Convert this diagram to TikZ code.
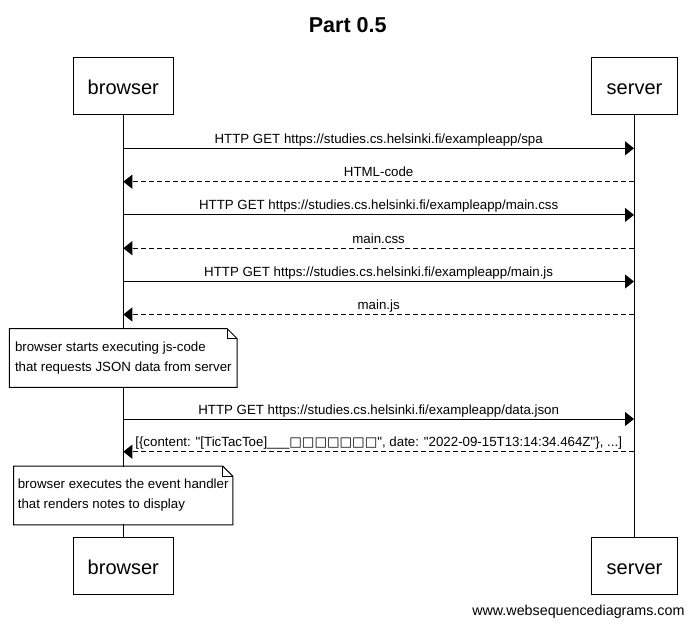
\documentclass[tikz,border=0pt]{standalone}
\usepackage{fontspec}
\setmainfont{Liberation Sans}[Ligatures=TeXOff]
\newfontfamily\symfont{DejaVu Sans}
\usetikzlibrary{arrows.meta}

\begin{document}
\begin{tikzpicture}
            [->, >={Triangle[length=9pt,width=14pt]}, x=1pt, y=-1pt, line width=1pt,
             font=\fontsize{13.3}{20}\selectfont,
             msg/.style={anchor=base, yshift=5pt, inner sep=0pt},
             reply/.style={dash pattern=on 5pt off 3pt},
             actor/.style={shape=rectangle, draw=black, minimum height=56.7pt, text height=16.6pt, text depth=0pt, font=\fontsize{20}{24}\selectfont},
             notetext/.style={fill=white, minimum height=57.7pt, align=left}]
            \useasboundingbox (0,0) rectangle (692,629);
            \node[font=\bfseries\fontsize{21.5}{24}\selectfont, anchor=base] (title) at (347.7,32.3) {Part 0.5};

            \node[actor, minimum width=100pt] (browser) at (123.3,85.7) {browser};
            \node[actor, minimum width=85.6pt] (server) at (634.5,85.7) {server};
            \node[actor, minimum width=100pt] (browserend) at (123.3,565.7) {browser};
            \node[actor, minimum width=85.6pt] (serverend) at (634.5,565.7) {server};

            \draw [-] (browser) -- (browserend);
            \draw [-] (server.south -| 634,0) -- (serverend.north -| 634,0);

            \foreach \y [count=\i] in {148.3, 181.7, 214.9, 248.2, 281.5, 314.5, 419, 451.7} {
                \coordinate (b\i) at (123.3,\y);
                \coordinate (s\i) at (634,\y);
            }

            \path [->] (b1) edge node[msg] {HTTP GET https://studies.cs.helsinki.fi/exampleapp/spa} (s1);
            \path [->, reply] (s2) edge node[msg] {HTML-code} (b2);
            \path [->] (b3) edge node[msg] {HTTP GET https://studies.cs.helsinki.fi/exampleapp/main.css} (s3);
            \path [->, reply] (s4) edge node[msg] {main.css} (b4);
            \path [->] (b5) edge node[msg] {HTTP GET https://studies.cs.helsinki.fi/exampleapp/main.js} (s5);
            \path [->, reply] (s6) edge node[msg] {main.js} (b6);
            \path [->] (b7) edge node[msg] {HTTP GET https://studies.cs.helsinki.fi/exampleapp/data.json} (s7);
            \path [->, reply] (s8) edge node[msg] {[\{content: "[TicTacToe]\_\_\_{\symfont □□□□□□□}", date: "2022-09-15T13:14:34.464Z"\}, ...]} (b8);

            \node[notetext, minimum width=226.7pt] (note1) at (123.3,358) {browser starts executing js-code\\that requests JSON data from server};
            \draw [-] (note1.north west) -- ([xshift=-10pt]note1.north east) -- ([yshift=-10pt]note1.north east)
                -- (note1.south east) -- (note1.south west) -- cycle;
            \draw [-] ([xshift=-10pt]note1.north east) |- ([yshift=-10pt]note1.north east);

            \node[notetext, minimum width=218.3pt] (note2) at (123.2,495.5) {browser executes the event handler\\that renders notes to display};
            \draw [-] (note2.north west) -- ([xshift=-10pt]note2.north east) -- ([yshift=-10pt]note2.north east)
                -- (note2.south east) -- (note2.south west) -- cycle;
            \draw [-] ([xshift=-10pt]note2.north east) |- ([yshift=-10pt]note2.north east);

            \node[font=\fontsize{14.3}{16}\selectfont, anchor=base east, inner sep=0pt] (footer) at (685,615) {www.websequencediagrams.com};
        \end{tikzpicture}
\end{document}
